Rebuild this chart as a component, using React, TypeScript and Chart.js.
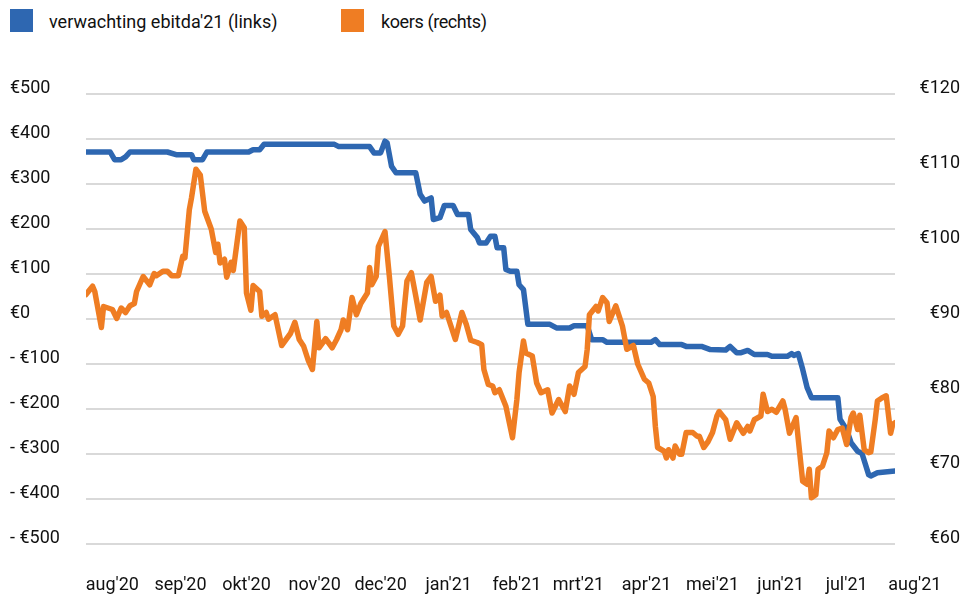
import React, { useEffect, useRef } from 'react';
import { Chart, registerables } from 'chart.js';

Chart.register(...registerables);

// x values are days counted from 20 July 2020
const monthLabels = ["aug'20", "sep'20", "okt'20", "nov'20", "dec'20", "jan'21", "feb'21", "mrt'21", "apr'21", "mei'21", "jun'21", "jul'21", "aug'21"];
const monthStartDays = [12, 43, 73, 104, 134, 165, 196, 224, 255, 285, 316, 346, 377];
const firstDay = 0;
const lastDay = 368;

const leftMin = -500;
const leftMax = 500;
const leftStep = 100;
const rightMin = 60;
const rightMax = 120;
const rightStep = 10;

const ebitdaLabel = "verwachting ebitda'21 (links)";
const koersLabel = 'koers (rechts)';

// [day, ebitda expectation in € mln] (left axis)
const ebitdaPoints: [number, number][] = [
  [0, 370], [11, 370], [13, 353], [16, 353], [18, 359], [20, 370], [37, 370], [41, 364], [48, 364], [49, 353],
  [53, 353], [55, 370], [74, 370], [76, 375], [79, 375], [81, 387], [113, 387], [115, 382], [129, 382], [131, 368],
  [134, 368], [136, 394], [137, 390], [139, 338], [141, 324], [150, 324], [152, 276], [154, 261], [157, 268], [158, 220],
  [161, 224], [163, 251], [167, 251], [169, 231], [174, 231], [175, 198], [178, 180], [179, 168], [182, 168], [184, 183],
  [186, 183], [187, 157], [190, 157], [191, 109], [193, 105], [196, 105], [197, 75], [199, 64], [201, -13], [211, -13],
  [214, -21], [220, -21], [222, -16], [228, -16], [230, -47], [235, -47], [237, -53], [257, -53], [259, -47], [261, -58],
  [271, -58], [273, -62], [280, -62], [284, -69], [291, -70], [293, -62], [296, -76], [298, -76], [301, -71], [304, -80],
  [310, -80], [312, -84], [319, -84], [321, -78], [322, -82], [324, -78], [326, -113], [328, -153], [330, -176], [342, -176],
  [343, -224], [346, -247], [348, -276], [351, -295], [353, -300], [356, -347], [357, -350], [360, -343], [368, -339],
];

// [day, share price in €] (right axis)
const koersPoints: [number, number][] = [
  [0, 93.2], [3, 94.3], [4, 93.6], [7, 88.8], [8, 91.6], [10, 91.4], [12, 91.2], [14, 90.0], [16, 91.4], [18, 90.8],
  [20, 91.7], [22, 92.0], [23, 93.6], [26, 95.6], [29, 94.5], [31, 96.0], [32, 95.7], [35, 96.3], [37, 96.3], [39, 95.7],
  [42, 95.7], [44, 98.3], [45, 98.1], [47, 104.5], [48, 106.1], [50, 109.9], [52, 109.1], [54, 104.3], [57, 101.9], [59, 98.8],
  [60, 99.9], [61, 97.4], [63, 97.9], [64, 95.5], [66, 97.5], [67, 96.4], [70, 103.0], [72, 102.1], [73, 93.4], [75, 91.1],
  [76, 94.4], [79, 93.6], [80, 90.3], [82, 90.8], [83, 89.9], [86, 90.5], [89, 86.4], [91, 87.2], [93, 88.0], [95, 89.5],
  [97, 87.2], [99, 86.3], [101, 84.5], [103, 83.2], [105, 89.6], [106, 86.1], [109, 87.3], [112, 86.1], [114, 87.2], [116, 88.5],
  [117, 89.8], [119, 88.5], [121, 92.8], [123, 90.5], [125, 92.0], [128, 93.4], [129, 96.8], [130, 94.5], [132, 95.6], [133, 99.6],
  [136, 101.6], [138, 95.6], [140, 89.0], [142, 87.9], [144, 89.0], [146, 95.0], [148, 96.1], [150, 93.0], [152, 89.8], [155, 94.8],
  [157, 95.6], [159, 92.3], [161, 93.1], [162, 90.3], [164, 90.8], [166, 89.0], [168, 87.2], [171, 90.8], [173, 89.2], [175, 87.1],
  [178, 86.8], [180, 86.5], [181, 83.2], [183, 81.2], [185, 81.0], [186, 80.1], [188, 80.5], [191, 78.3], [194, 74.1], [196, 79.2],
  [197, 82.8], [199, 87.0], [200, 85.4], [203, 85.0], [205, 81.4], [207, 80.1], [210, 80.5], [212, 77.4], [215, 79.2], [218, 77.6],
  [220, 81.0], [222, 79.9], [224, 82.8], [227, 83.6], [228, 85.9], [229, 90.5], [232, 91.6], [233, 91.0], [235, 92.8], [237, 92.1],
  [238, 89.6], [241, 91.7], [244, 89.0], [246, 85.9], [249, 86.4], [251, 83.9], [254, 81.9], [256, 81.4], [258, 79.6], [259, 75.6],
  [260, 72.8], [263, 72.3], [264, 71.4], [265, 72.5], [267, 71.4], [268, 73.0], [270, 71.9], [271, 71.9], [273, 74.8], [276, 74.8],
  [278, 74.3], [279, 74.3], [281, 72.8], [283, 73.6], [285, 74.8], [287, 77.0], [288, 77.6], [291, 76.5], [293, 73.9], [296, 76.1],
  [299, 74.7], [301, 75.6], [302, 75.0], [304, 76.5], [307, 77.0], [308, 79.9], [310, 77.6], [312, 77.9], [314, 77.5], [317, 79.0],
  [318, 77.9], [320, 74.7], [323, 76.8], [324, 73.9], [326, 68.3], [328, 67.9], [329, 69.9], [330, 66.1], [332, 66.5], [333, 69.9],
  [335, 70.3], [337, 72.1], [338, 75.0], [340, 74.1], [342, 75.2], [344, 75.4], [346, 73.2], [348, 76.8], [349, 77.4], [351, 75.2],
  [352, 77.1], [354, 72.5], [356, 72.1], [357, 72.2], [359, 76.5], [360, 79.0], [362, 79.4], [364, 79.7], [366, 74.7], [367, 75.9],
  [368, 76.1],
];

const BLUE = '#2E67B1';
const ORANGE = '#EF7D23';
const TEXT = '#111111';
const GRID = '#d9d9d9';
const FONT = 'Roboto';

export default function App() {
  const ref = useRef<HTMLCanvasElement | null>(null);

  useEffect(() => {
    if (!ref.current) return;
    Chart.defaults.font.family = FONT;
    Chart.defaults.font.size = 18;
    Chart.defaults.color = TEXT;

    const shiftDays = monthStartDays[0] - firstDay;
    const pxPerDay = (895 - 86) / (lastDay - firstDay);

    const chart = new Chart(ref.current, {
      type: 'line',
      data: {
        datasets: [
          {
            label: ebitdaLabel,
            data: ebitdaPoints.map(([x, y]) => ({ x, y })),
            yAxisID: 'y',
            borderColor: BLUE,
            backgroundColor: BLUE,
            borderWidth: 5.5,
            pointRadius: 0,
            tension: 0,
            borderJoinStyle: 'round',
            borderCapStyle: 'round',
            order: 1,
          },
          {
            label: koersLabel,
            data: koersPoints.map(([x, y]) => ({ x, y })),
            yAxisID: 'y1',
            borderColor: ORANGE,
            backgroundColor: ORANGE,
            borderWidth: 5.5,
            pointRadius: 0,
            tension: 0,
            borderJoinStyle: 'round',
            borderCapStyle: 'round',
            order: 0,
          },
        ],
      },
      options: {
        responsive: false,
        animation: false,
        events: [],
        layout: { padding: { left: 10, right: 6, top: 93.5, bottom: 0 } },
        plugins: {
          legend: { display: false },
          tooltip: { enabled: false },
        },
        scales: {
          x: {
            type: 'linear',
            min: firstDay,
            max: lastDay,
            grid: { display: false, drawTicks: false },
            border: { display: false },
            afterBuildTicks: (s: any) => {
              s.ticks = monthStartDays.map((d) => ({ value: d - shiftDays }));
            },
            afterFit: (s: any) => {
              s.height = 57.5;
            },
            ticks: {
              autoSkip: false,
              maxRotation: 0,
              minRotation: 0,
              padding: 31.5,
              labelOffset: shiftDays * pxPerDay,
              callback: (_v: any, i: number) => monthLabels[i],
            },
          },
          y: {
            type: 'linear',
            position: 'left',
            min: leftMin,
            max: leftMax,
            grid: { color: GRID, lineWidth: 2, drawTicks: false },
            border: { display: false },
            afterFit: (s: any) => {
              s.width = 76;
            },
            ticks: {
              stepSize: leftStep,
              crossAlign: 'far',
              labelOffset: -5.5,
              padding: 0,
              callback: (v: any) => (Number(v) < 0 ? `- €${-Number(v)}` : `€${v}`),
            },
          },
          y1: {
            type: 'linear',
            position: 'right',
            min: rightMin,
            max: rightMax,
            grid: { display: false, drawTicks: false },
            border: { display: false },
            afterFit: (s: any) => {
              s.width = 65;
            },
            ticks: {
              stepSize: rightStep,
              crossAlign: 'far',
              labelOffset: -5.5,
              padding: 0,
              callback: (v: any) => `€${v}`,
            },
          },
        },
      },
    });
    return () => chart.destroy();
  }, []);

  const legendText: React.CSSProperties = {
    position: 'absolute',
    top: 11,
    fontFamily: FONT,
    fontSize: 18,
    color: TEXT,
    whiteSpace: 'nowrap',
    lineHeight: 'normal',
  };

  return (
    <div style={{ position: 'absolute', left: 0, top: 0, width: 966, height: 601, background: '#fff' }}>
      <div style={{ position: 'absolute', left: 10, top: 9, width: 23, height: 23, background: BLUE }} />
      <div style={{ ...legendText, left: 49 }}>{ebitdaLabel}</div>
      <div style={{ position: 'absolute', left: 341, top: 9, width: 23, height: 23, background: ORANGE }} />
      <div style={{ ...legendText, left: 381, letterSpacing: -0.4 }}>{koersLabel}</div>
      <canvas ref={ref} width={966} height={601} style={{ position: 'absolute', left: 0, top: 0 }} />
    </div>
  );
}
